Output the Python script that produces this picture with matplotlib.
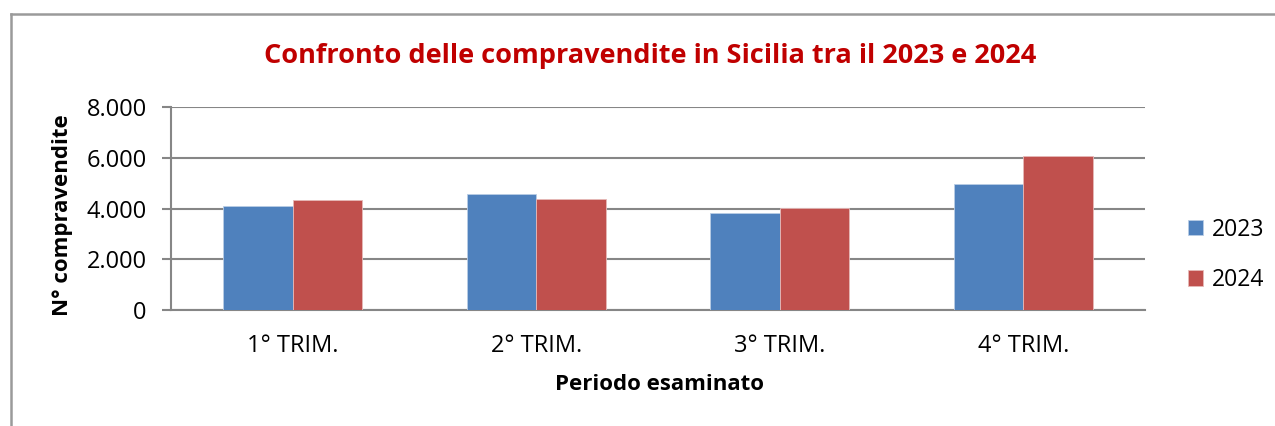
import numpy as np
import matplotlib
matplotlib.use("Agg")
import matplotlib.pyplot as plt
from matplotlib.lines import Line2D

# data
categories = ["1° TRIM.", "2° TRIM.", "3° TRIM.", "4° TRIM."]
vals_2023 = [4110, 4565, 3815, 4960]
vals_2024 = [4350, 4370, 4025, 6065]
years = ["2023", "2024"]
yticks = [0, 2000, 4000, 6000, 8000]
ytick_labels = ["0", "2.000", "4.000", "6.000", "8.000"]

plt.rcParams['font.family'] = ['Open Sans', 'DejaVu Sans']

fig = plt.figure(figsize=(12.75, 4.26), dpi=100)
ax = fig.add_axes([171/1275, 1-310/426, (1145-171)/1275, (310-107.3)/426])

x = np.arange(len(categories))
w = 0.2857
ax.bar(x - w/2, vals_2023, w, color='#4F81BD', edgecolor='#B9CDE5', linewidth=0.6, label=years[0], zorder=3)
ax.bar(x + w/2, vals_2024, w, color='#C0504D', edgecolor='#E6B9B8', linewidth=0.6, label=years[1], zorder=3)

ax.set_xlim(-0.5, 3.5)
ax.set_ylim(0, 8000)
ax.set_yticks(yticks)
ax.set_yticklabels(ytick_labels, fontsize=17)
ax.set_xticks(x)
ax.set_xticklabels(categories, fontsize=17)
ax.tick_params(axis='x', length=0, pad=17)
ax.tick_params(axis='y', length=6.5, width=1.5, color='#868686', pad=11)
ax.grid(axis='y', color='#868686', linewidth=1.5, zorder=0)

for s in ['top', 'right']:
    ax.spines[s].set_visible(False)
for s in ['left', 'bottom']:
    ax.spines[s].set_color('#868686')
    ax.spines[s].set_linewidth(1.5)

ax.set_xlabel("Periodo esaminato", fontsize=16, fontweight='bold', va='center')
ax.set_ylabel("N° compravendite", fontsize=16, fontweight='bold', va='center')
ax.xaxis.set_label_coords(0.502, -0.37)
ax.yaxis.set_label_coords(-0.111, 0.47)

fig.text(650/1275, 1-56/426, "Confronto delle compravendite in Sicilia tra il 2023 e 2024",
         ha='center', va='center', fontsize=19.5, fontweight='bold', color='#C00000')

fig.legend(loc='center left', bbox_to_anchor=(1167/1275, 1-255/426), frameon=False,
           fontsize=16.5, handlelength=0.65, handleheight=0.65, handletextpad=0.4,
           labelspacing=1.15)

# outer chart border (left and top edges visible)
fig.add_artist(Line2D([11/1275, 11/1275], [0, 1-14/426], transform=fig.transFigure, color='#9A9A9A', linewidth=1.8))
fig.add_artist(Line2D([11/1275, 1], [1-14/426, 1-14/426], transform=fig.transFigure, color='#9A9A9A', linewidth=1.8))

fig.savefig("out.png", dpi=100)
